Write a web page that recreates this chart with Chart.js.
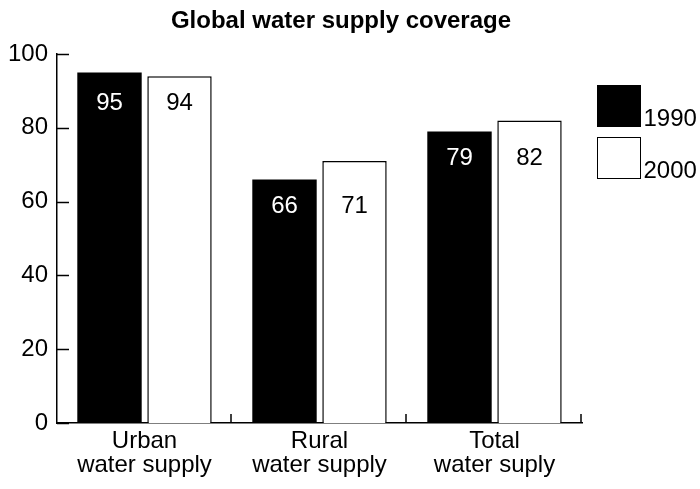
<!DOCTYPE html>
<html>
<head>
<meta charset="utf-8">
<script src="https://cdn.jsdelivr.net/npm/chart.js@4/dist/chart.umd.min.js"></script>
<style>
  html, body { margin: 0; padding: 0; background: #fff; }
  #wrap { width: 700px; height: 489px; }
</style>
</head>
<body>
<div id="wrap"><canvas id="c" width="700" height="489"></canvas></div>
<script>
// Coverage (%) by supply type
const categories = [['Urban', 'water supply'], ['Rural', 'water supply'], ['Total', 'water suply']];
const seriesNames = ['1990', '2000'];
const values1990 = [95, 66, 79];
const values2000 = [94, 71, 82];
const yTicks = [0, 20, 40, 60, 80, 100];

const FONT = '"Liberation Sans", Arial, Helvetica, sans-serif';
const chartTitle = 'Global water supply coverage';

// Title, drawn centred over the plot and legend block
const titlePlugin = {
  id: 'titleText',
  afterDraw(chart) {
    const ctx = chart.ctx;
    const a = chart.chartArea;
    ctx.save();
    ctx.font = 'bold 24px ' + FONT;
    ctx.fillStyle = '#000';
    ctx.textAlign = 'center';
    ctx.textBaseline = 'alphabetic';
    ctx.fillText(chartTitle, a.left + 284, a.top - 26);
    ctx.restore();
  }
};

// Inward y ticks and upward ticks at the category boundaries
const axisTicksPlugin = {
  id: 'axisTicks',
  afterDraw(chart) {
    const ctx = chart.ctx;
    const a = chart.chartArea;
    const y = chart.scales.y;
    const x = chart.scales.x;
    ctx.save();
    ctx.strokeStyle = '#000';
    ctx.lineWidth = 1.5;
    y.ticks.forEach(t => {
      const py = Math.round(y.getPixelForValue(t.value)) + 0.5;
      ctx.beginPath();
      ctx.moveTo(a.left, py);
      ctx.lineTo(a.left + 12, py);
      ctx.stroke();
    });
    const step = (a.right - a.left) / categories.length;
    for (let i = 1; i <= categories.length; i++) {
      const px = a.left + step * i - 1;
      ctx.beginPath();
      ctx.moveTo(px, a.bottom);
      ctx.lineTo(px, a.bottom - 9);
      ctx.stroke();
    }
    ctx.restore();
  }
};

// Value labels inside the bars, level with the lower bar of each group
const valueLabelPlugin = {
  id: 'valueLabels',
  afterDatasetsDraw(chart) {
    const ctx = chart.ctx;
    const y = chart.scales.y;
    ctx.save();
    ctx.font = '24px ' + FONT;
    ctx.textAlign = 'center';
    ctx.textBaseline = 'middle';
    categories.forEach((_, i) => {
      const low = Math.min(...chart.data.datasets.map(d => d.data[i]));
      const ly = y.getPixelForValue(low) + 27;
      chart.data.datasets.forEach((ds, di) => {
        const bar = chart.getDatasetMeta(di).data[i];
        ctx.fillStyle = ds.labelColor;
        ctx.fillText(String(ds.data[i]), bar.x, ly);
      });
    });
    ctx.restore();
  }
};

// Legend: square swatches with the year set at the swatch's lower edge
const legendPlugin = {
  id: 'sideLegend',
  afterDraw(chart) {
    const ctx = chart.ctx;
    const a = chart.chartArea;
    ctx.save();
    ctx.font = '24px ' + FONT;
    ctx.textAlign = 'left';
    ctx.textBaseline = 'alphabetic';
    chart.data.datasets.forEach((ds, i) => {
      const bx = a.right + 15.5;
      const by = a.top + 31.5 + i * 52;
      const w = 43, h = 41;
      ctx.fillStyle = ds.backgroundColor;
      ctx.fillRect(bx, by, w, h);
      ctx.strokeStyle = '#000';
      ctx.lineWidth = 1;
      ctx.strokeRect(bx, by, w, h);
      ctx.fillStyle = '#000';
      ctx.fillText(ds.label, bx + w + 3, by + h - 1);
    });
    ctx.restore();
  }
};

new Chart(document.getElementById('c'), {
  type: 'bar',
  data: {
    labels: categories,
    datasets: [
      {
        label: seriesNames[0],
        data: values1990,
        backgroundColor: '#000000',
        borderColor: '#000000',
        borderWidth: 0,
        labelColor: '#ffffff'
      },
      {
        label: seriesNames[1],
        data: values2000,
        backgroundColor: '#ffffff',
        borderColor: '#000000',
        borderWidth: 1.5,
        labelColor: '#000000'
      }
    ]
  },
  options: {
    responsive: false,
    animation: false,
    devicePixelRatio: 1,
    layout: { padding: { top: 54, right: 118, left: 0, bottom: 0 } },
    categoryPercentage: 0.8,
    barPercentage: 0.92,
    plugins: {
      legend: { display: false },
      title: { display: false },
      tooltip: { enabled: false }
    },
    scales: {
      x: {
        grid: { display: false, drawTicks: false },
        border: { display: true, color: '#000', width: 1.5 },
        ticks: {
          color: '#000',
          padding: 7,
          maxRotation: 0,
          font: { family: FONT, size: 24, lineHeight: 0.97 }
        },
        afterFit(s) { s.height = 66; }
      },
      y: {
        min: 0,
        max: 100,
        afterBuildTicks(s) { s.ticks = yTicks.map(v => ({ value: v })); },
        grid: { display: false, drawTicks: false },
        border: { display: true, color: '#000', width: 1.5 },
        ticks: {
          color: '#000',
          padding: 9,
          font: { family: FONT, size: 24 }
        },
        afterFit(s) { s.width = 57; }
      }
    }
  },
  plugins: [titlePlugin, axisTicksPlugin, valueLabelPlugin, legendPlugin]
});
</script>
</body>
</html>
